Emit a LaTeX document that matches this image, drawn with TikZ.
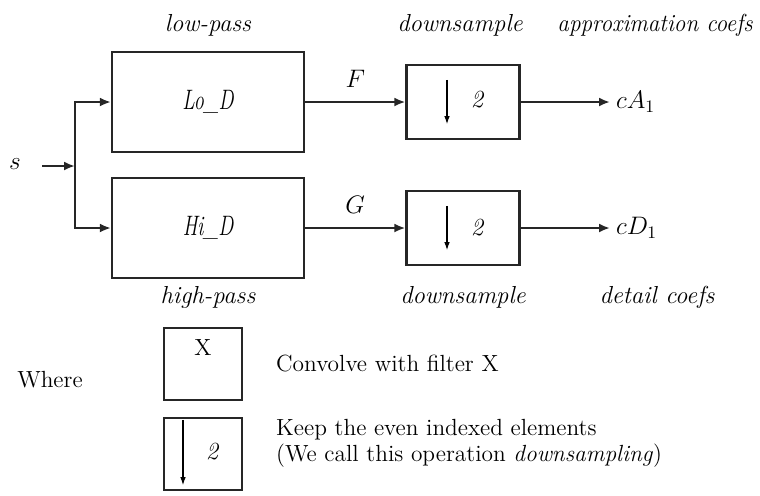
\documentclass[tikz,border=0pt]{standalone}
\usepackage{amsmath}
\usetikzlibrary{arrows.meta}

\newcommand{\cond}[1]{\scalebox{0.72}[1]{#1}}
\tikzset{
  blk/.style={draw=black!85, line width=1.3pt, inner sep=0pt},
  conn/.style={-{Latex[length=2.2mm,width=1.8mm]}, draw=black!85, line width=1.3pt},
  tip/.style={-{Latex[length=1.6mm,width=1.1mm]}, line width=0.6pt},
  lbl/.style={font=\fontsize{14}{16}\selectfont\itshape},
  txt/.style={font=\fontsize{13.3}{15}\selectfont}
}

\begin{document}
\begin{tikzpicture}[x=0.02cm,y=-0.02cm]
    \useasboundingbox (0,0) rectangle (760,495);
    \node[blk, minimum width=3.84cm, minimum height=2cm, lbl, font=\fontsize{16}{18}\selectfont\itshape] (lo) at (208,102) {\cond{Lo\_D}};
    \node[blk, minimum width=3.84cm, minimum height=2cm, lbl, font=\fontsize{16}{18}\selectfont\itshape] (hi) at (208,228) {\cond{Hi\_D}};
    \node[blk, minimum width=2.26cm, minimum height=1.48cm] (ds1) at (463,102) {};
    \node[blk, minimum width=2.26cm, minimum height=1.48cm] (ds2) at (463,228) {};
    \node[lbl] (d1) at (477,100) {2};
    \node[lbl] (d2) at (477,228) {2};
    \draw[tip] ([xshift=-0.32cm,yshift=-0.32cm]ds1.north) -- ([xshift=-0.32cm,yshift=0.32cm]ds1.south);
    \draw[tip] ([xshift=-0.32cm,yshift=-0.32cm]ds2.north) -- ([xshift=-0.32cm,yshift=0.32cm]ds2.south);
    \node[lbl] (s) at (15,164) {$s$};
    \coordinate (j) at (75,166);
    \node[lbl, anchor=west] (ca) at (610,102) {$cA_1$};
    \node[lbl, anchor=west] (cd) at (610,228) {$cD_1$};
    \draw[conn] ([xshift=0.3cm]s.east |- j) -- (j);
    \draw[conn] (j) |- (lo.west);
    \draw[conn] (j) |- (hi.west);
    \draw[conn] (lo.east) -- node[above=4pt, lbl]{$F$} (ds1.west);
    \draw[conn] (hi.east) -- node[above=4pt, lbl]{$G$} (ds2.west);
    \draw[conn] (ds1.east) -- (ca.west);
    \draw[conn] (ds2.east) -- (cd.west);
    \node[lbl] (lp) at (208,25) {low-pass};
    \node[lbl] (hp) at (208,297) {high-pass};
    \node[lbl] (dn1) at (460,25) {downsample};
    \node[lbl] (dn2) at (463,297) {downsample};
    \node[lbl] (ac) at (655,25) {\scalebox{0.94}[1]{approximation coefs}};
    \node[lbl] (dc) at (657,297) {detail coefs};
    \node[txt] (wh) at (50,380) {Where};
    \node[blk, minimum width=1.56cm, minimum height=1.44cm] (kx) at (203,364) {};
    \node[txt] (xx) at (203,348) {X};
    \node[blk, minimum width=1.56cm, minimum height=1.44cm] (kd) at (203,454) {};
    \node[lbl] (k2) at (212,452) {2};
    \draw[tip] ([xshift=-0.4cm,yshift=-0.06cm]kd.north) -- ([xshift=-0.4cm,yshift=0.12cm]kd.south);
    \node[txt, anchor=west] (cv) at (270,364) {Convolve with filter X};
    \node[txt, anchor=west, align=left] (kp) at (270,443) {Keep the even indexed elements\\(We call this operation \textit{downsampling})};
\end{tikzpicture}
\end{document}
